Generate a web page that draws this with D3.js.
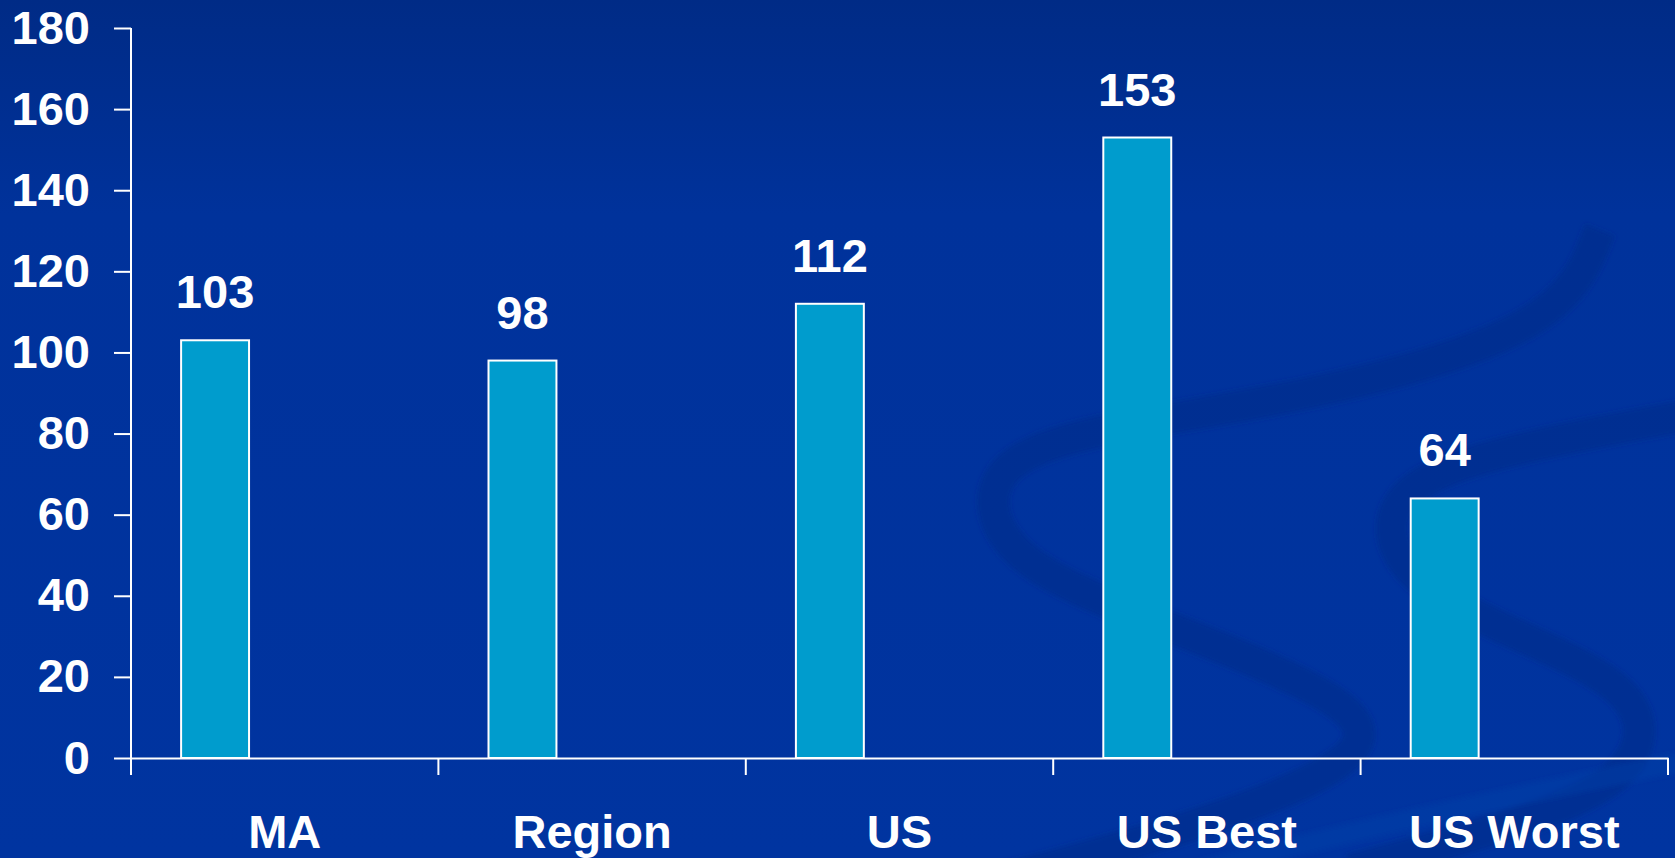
<!DOCTYPE html>
<html>
<head>
<meta charset="utf-8">
<script src="https://cdn.jsdelivr.net/npm/d3@7"></script>
<style>
  html, body { margin: 0; padding: 0; background: #0033a0; }
  svg { display: block; }
  text { font-family: "Liberation Sans", Arial, sans-serif; font-weight: bold; fill: #fff; }
</style>
</head>
<body>
<script>
const categories = ['MA', 'Region', 'US', 'US Best', 'US Worst'];
const values = [103, 98, 112, 153, 64];
const yTicks = [0, 20, 40, 60, 80, 100, 120, 140, 160, 180];

const width = 1675;
const height = 858;
const plotLeft = 131, plotRight = 1668, plotTop = 28, plotBottom = 758;
const fontSize = 47;

const svg = d3.select('body').append('svg')
    .attr('width', width)
    .attr('height', height);

// background
const defs = svg.append('defs');
const grad = defs.append('linearGradient')
    .attr('id', 'bg').attr('x1', 0).attr('y1', 0).attr('x2', 0).attr('y2', 1);
grad.append('stop').attr('offset', '0%').attr('stop-color', '#002b86');
grad.append('stop').attr('offset', '25%').attr('stop-color', '#00329b');
grad.append('stop').attr('offset', '100%').attr('stop-color', '#0034a0');
defs.append('filter').attr('id', 'soft')
    .append('feGaussianBlur').attr('stdDeviation', 2.5);

svg.append('rect').attr('width', width).attr('height', height).attr('fill', 'url(#bg)');

// faint swirl ribbons in the background
const swirl = svg.append('g').attr('fill', 'none').attr('filter', 'url(#soft)');
const line = d3.line().curve(d3.curveBasis);
swirl.append('path')
    .attr('d', line([[1600, 230], [1560, 330], [1300, 400], [1080, 430], [980, 470], [1000, 560],
        [1150, 620], [1330, 690], [1380, 740], [1300, 790], [1150, 840], [1000, 880]]))
    .attr('stroke', '#002a88').attr('stroke-width', 32).attr('stroke-opacity', 0.5);
swirl.append('path')
    .attr('d', line([[1690, 415], [1500, 450], [1385, 490], [1390, 570], [1500, 630],
        [1650, 690], [1640, 780], [1500, 830], [1350, 870]]))
    .attr('stroke', '#002a88').attr('stroke-width', 32).attr('stroke-opacity', 0.5);
swirl.append('path')
    .attr('d', line([[1200, 870], [1400, 820], [1690, 760]]))
    .attr('stroke', '#0a3ea8').attr('stroke-width', 20).attr('stroke-opacity', 0.45);

const x = d3.scaleBand().domain(categories).range([plotLeft, plotRight]).padding(0);
const y = d3.scaleLinear().domain([0, 180]).range([plotBottom, plotTop]);
const bw = x.bandwidth();

// bars
svg.append('g').selectAll('rect')
    .data(categories)
    .join('rect')
    .attr('x', d => x(d) + bw * 0.163)
    .attr('y', (d, i) => y(values[i]))
    .attr('width', bw * 0.221)
    .attr('height', (d, i) => y(0) - y(values[i]))
    .attr('fill', '#009ccd')
    .attr('stroke', '#fff')
    .attr('stroke-width', 2);

// value labels
svg.append('g').selectAll('text')
    .data(categories)
    .join('text')
    .attr('x', d => x(d) + bw * 0.2735)
    .attr('y', (d, i) => y(values[i]) - 32)
    .attr('text-anchor', 'middle')
    .attr('font-size', fontSize)
    .text((d, i) => values[i]);

// y axis
const yAxis = svg.append('g')
    .attr('transform', `translate(${plotLeft},0)`)
    .call(d3.axisLeft(y).tickValues(yTicks).tickSize(17).tickPadding(24).tickSizeOuter(0));
yAxis.select('.domain').attr('stroke', '#fff').attr('stroke-width', 2)
    .attr('d', `M0,${plotTop}V${plotBottom + 17}`);
yAxis.selectAll('.tick line').attr('stroke', '#fff').attr('stroke-width', 2);
yAxis.selectAll('.tick text')
    .attr('font-size', fontSize).attr('fill', '#fff')
    .attr('font-family', '"Liberation Sans", Arial, sans-serif')
    .attr('font-weight', 'bold');

// x axis
const xAxis = svg.append('g')
    .attr('transform', `translate(0,${plotBottom})`)
    .call(d3.axisBottom(x).tickSize(0).tickPadding(0).tickSizeOuter(0));
xAxis.select('.domain').attr('stroke', '#fff').attr('stroke-width', 2);
xAxis.selectAll('.tick text')
    .attr('font-size', fontSize).attr('fill', '#fff')
    .attr('font-family', '"Liberation Sans", Arial, sans-serif')
    .attr('font-weight', 'bold')
    .attr('dy', null)
    .attr('y', 90);
const bounds = categories.map(c => x(c)).concat([plotRight]);
xAxis.append('g').selectAll('line')
    .data(bounds)
    .join('line')
    .attr('x1', d => d).attr('x2', d => d)
    .attr('y1', 0).attr('y2', 17)
    .attr('stroke', '#fff').attr('stroke-width', 2);
</script>
</body>
</html>
